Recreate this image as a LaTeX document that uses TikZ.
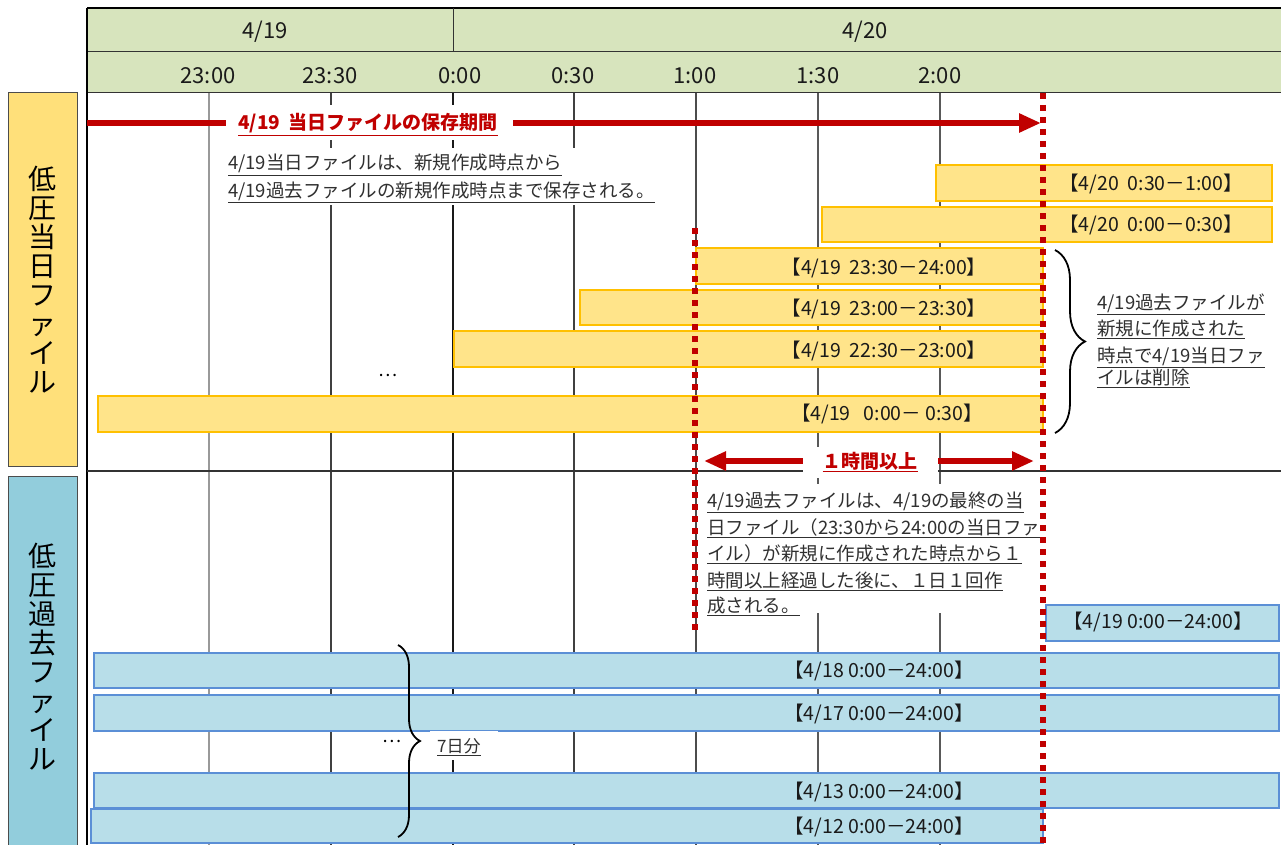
\documentclass[tikz,border=0pt]{standalone}
\usepackage{fontspec}
\setmainfont{Noto Sans CJK JP}
\usetikzlibrary{arrows.meta,decorations.pathreplacing}
\definecolor{hdr}{HTML}{D7E4BD}
\definecolor{lblY}{HTML}{FFE07A}
\definecolor{lblB}{HTML}{92CDDC}
\definecolor{barY}{HTML}{FFE48A}
\definecolor{barYb}{HTML}{FFC000}
\definecolor{barB}{HTML}{B8DEE9}
\definecolor{barBb}{HTML}{5B8FD6}
\definecolor{dred}{HTML}{C00000}
\definecolor{txt}{HTML}{1A1A1A}
\definecolor{ntxt}{HTML}{303030}
\newcommand{\ulx}[1]{\underline{#1}}
\tikzset{
  gridln/.style={line width=2pt},
  ybar/.style={draw=barYb, fill=barY, line width=1.6pt},
  bbar/.style={draw=barBb, fill=barB, line width=1.6pt},
  bartxt/.style={font=\fontsize{19.5}{22}\selectfont, inner sep=0pt, anchor=base, text=txt},
  hdrtxt/.style={font=\fontsize{22}{24}\selectfont, inner sep=0pt, text=txt},
  notetxt/.style={font=\fontsize{18.5}{26}\selectfont, inner sep=0pt, anchor=base west, text=ntxt},
  vlabel/.style={font=\fontsize{28}{29}\selectfont, align=center, inner sep=0pt, text=black},
  reddot/.style={draw=dred, line width=6.5pt, dash pattern=on 6pt off 6pt},
  redarr/.style={draw=dred, line width=6pt, -{Triangle[length=22pt,width=18pt]}},
  redarr2/.style={draw=dred, line width=6pt, {Triangle[length=22pt,width=18pt]}-{Triangle[length=22pt,width=18pt]}},
  redlbl/.style={font=\bfseries\fontsize{19}{22}\selectfont, inner sep=0pt, anchor=base, text=dred},
  bracestyle/.style={decorate, line width=1.8pt, draw=black},
  whitebox/.style={fill=white, draw=none}
}
\begin{document}
\begin{tikzpicture}[x=1pt,y=-1pt]
\useasboundingbox (0,0) rectangle (1281,845);
% header
\fill[hdr] (87,8) rectangle (1281,93);
\draw[line width=1.5pt] (87,8) -- (1281,8);
\draw[line width=1pt, draw=black!80] (87,52) -- (1281,52);
\draw[line width=1pt, draw=black!80] (453,8) -- (453,52);
\draw[line width=1pt, draw=black!80] (87,93) -- (1281,93);
\node[hdrtxt] (d419) at (265,32) {4/19};
\node[hdrtxt] (d420) at (865,32) {4/20};
\node[hdrtxt] (t2300) at (208,76) {23:00};
\node[hdrtxt] (t2330) at (330,76) {23:30};
\node[hdrtxt] (t0000) at (460,76) {0:00};
\node[hdrtxt] (t0030) at (573,76) {0:30};
\node[hdrtxt] (t0100) at (695,76) {1:00};
\node[hdrtxt] (t0130) at (818,76) {1:30};
\node[hdrtxt] (t0200) at (940,76) {2:00};
% left labels
\draw[fill=lblY, draw=black!70, line width=1pt] (8,93) rectangle (77,466);
\node[vlabel] (lblcur) at (42.5,280) {低\\圧\\当\\日\\フ\\ァ\\イ\\ル};
\draw[fill=lblB, draw=black!70, line width=1pt] (8,476) rectangle (77,850);
\node[vlabel] (lblpast) at (42.5,657) {低\\圧\\過\\去\\フ\\ァ\\イ\\ル};
% grid
\draw[gridln, draw=black!40] (209,93) -- (209,845);
\draw[gridln, draw=black!75] (331,93) -- (331,845);
\draw[gridln, draw=black!90] (453,93) -- (453,845);
\draw[gridln, draw=black!75] (574,93) -- (574,845);
\draw[gridln, draw=black!70] (696,93) -- (696,845);
\draw[gridln, draw=black!65] (818,93) -- (818,845);
\draw[gridln, draw=black!65] (940,93) -- (940,845);
\draw[line width=2pt] (87,8) -- (87,845);
\draw[line width=1.5pt, draw=black!80] (87,471) -- (1281,471);
% current-day bars
\draw[ybar] (936,165) rectangle (1272,201);
\draw[ybar] (822,207) rectangle (1272,242);
\draw[ybar] (696,248) rectangle (1043,284);
\draw[ybar] (580,290) rectangle (1043,325);
\draw[ybar] (454,331) rectangle (1043,367);
\draw[ybar] (98,396) rectangle (1043,432);
% past bars
\draw[bbar] (1046,605) rectangle (1279,641);
\draw[bbar] (94,653) rectangle (1279,688);
\draw[bbar] (94,695) rectangle (1279,731);
\draw[bbar] (94,773) rectangle (1279,808);
\draw[bbar] (91,809) rectangle (1043,843);
% red dotted lines
\coordinate (rdTop) at (1043,93);
\coordinate (rdBot) at (1043,845);
\draw[reddot] (rdTop) -- (rdBot);
\coordinate (rd2Top) at (695,228);
\coordinate (rd2Bot) at (695,630);
\draw[reddot] (rd2Top) -- (rd2Bot);
% arrows
\coordinate (a1s) at (87,123);
\coordinate (a1e) at (1041,123);
\draw[redarr] (a1s) -- (a1e);
\coordinate (a2s) at (704,461);
\coordinate (a2e) at (1034,461);
\draw[redarr2] (a2s) -- (a2e);
% white boxes
\fill[whitebox] (226,105) rectangle (513,140);
\fill[whitebox] (220,148) rectangle (665,205);
\fill[whitebox] (803,447) rectangle (938,478);
\fill[whitebox] (700,484) rectangle (1035,613);
\fill[whitebox] (1090,285) rectangle (1275,392);
\fill[whitebox] (430,731) rectangle (498,760);
% labels
\node[redlbl] (lblKeep) at (368,130) {\ulx{4/19\ \ 当日ファイルの保存期間}};
\node[redlbl] (lblHour) at (870,468) {\ulx{１時間以上}};
\node[notetxt] (n1a) at (228,170) {\ulx{4/19当日ファイルは、新規作成時点から}};
\node[notetxt] (n1b) at (228,197) {\ulx{4/19過去ファイルの新規作成時点まで保存される。}};
\node[notetxt] (n2a) at (707,507) {\ulx{4/19過去ファイルは、4/19の最終の当}};
\node[notetxt] (n2b) at (707,534) {\ulx{日ファイル（23:30から24:00の当日ファ}};
\node[notetxt] (n2c) at (707,560) {\ulx{イル）が新規に作成された時点から１}};
\node[notetxt] (n2d) at (707,587) {\ulx{時間以上経過した後に、１日１回作}};
\node[notetxt] (n2e) at (707,612) {\ulx{成される。}};
\node[notetxt] (n3a) at (1097,309) {\ulx{4/19過去ファイルが}};
\node[notetxt] (n3b) at (1097,335) {\ulx{新規に作成された}};
\node[notetxt] (n3c) at (1097,362) {\ulx{時点で4/19当日ファ}};
\node[notetxt] (n3d) at (1097,384) {\ulx{イルは削除}};
\node[notetxt, font=\fontsize{17}{20}\selectfont] (n7) at (437,752) {\ulx{7日分}};
% bar texts
\node[bartxt] (ty1) at (1151,190) {【4/20\ \ 0:30－1:00】};
\node[bartxt] (ty2) at (1151,231) {【4/20\ \ 0:00－0:30】};
\node[bartxt] (ty3) at (884,274) {【4/19\ \ 23:30－24:00】};
\node[bartxt] (ty4) at (884,315) {【4/19\ \ 23:00－23:30】};
\node[bartxt] (ty5) at (884,357) {【4/19\ \ 22:30－23:00】};
\node[bartxt] (ty6) at (887,420) {【4/19\ \ \ 0:00－ 0:30】};
\node[bartxt] (tb19) at (1158,628) {【4/19\ 0:00－24:00】};
\node[bartxt] (tb18) at (879,677) {【4/18\ 0:00－24:00】};
\node[bartxt] (tb17) at (879,720) {【4/17\ 0:00－24:00】};
\node[bartxt] (tb13) at (879,798) {【4/13\ 0:00－24:00】};
\node[bartxt] (tb12) at (879,833) {【4/12\ 0:00－24:00】};
% ellipses
\node[font=\fontsize{18}{20}\selectfont, inner sep=0pt] (dots1) at (388,375) {…};
\node[font=\fontsize{18}{20}\selectfont, inner sep=0pt] (dots2) at (392,741) {…};
% braces
\coordinate (br1t) at (1055,250);
\coordinate (br1b) at (1055,433);
\draw[bracestyle, decoration={brace, amplitude=30pt}] (br1t) -- (br1b);
\coordinate (br2t) at (398,645);
\coordinate (br2b) at (398,837);
\draw[bracestyle, decoration={brace, amplitude=22pt}] (br2t) -- (br2b);
\end{tikzpicture}
\end{document}
